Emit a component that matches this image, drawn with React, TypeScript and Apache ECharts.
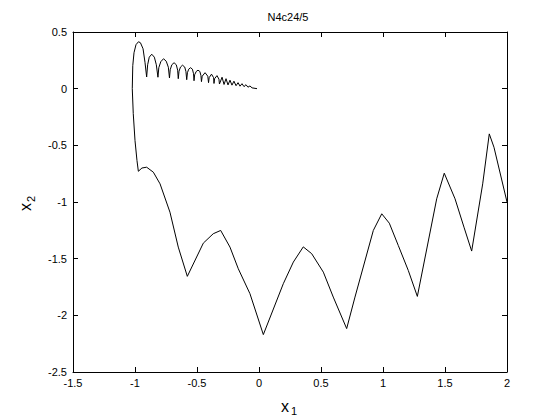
import React, { useEffect, useRef } from "react";
import * as echarts from "echarts";

const TITLE = "N4c24/5";
const X_TICKS_MIN = -1.5;
const X_TICKS_MAX = 2;
const Y_TICKS_MIN = -2.5;
const Y_TICKS_MAX = 0.5;
const TICK_STEP = 0.5;

// Upper part: from near the origin, scallops growing to the left, then down the left side
const upperX1 = [
  -0.016, -0.056, -0.073, -0.089, -0.105, -0.121, -0.137, -0.153, -0.169, -0.185,
  -0.202, -0.218, -0.234, -0.25, -0.266, -0.282, -0.298, -0.319, -0.323, -0.339,
  -0.358, -0.363, -0.366, -0.383, -0.402, -0.407, -0.413, -0.435, -0.458, -0.464,
  -0.468, -0.477, -0.492, -0.506, -0.519, -0.524, -0.528, -0.537, -0.552, -0.567,
  -0.577, -0.583, -0.589, -0.599, -0.617, -0.633, -0.645, -0.651, -0.656, -0.667,
  -0.685, -0.703, -0.716, -0.722, -0.731, -0.748, -0.77, -0.792, -0.808, -0.815,
  -0.828, -0.844, -0.865, -0.885, -0.898, -0.906, -0.919, -0.935, -0.956, -0.972,
  -0.992, -1.008, -1.018, -1.022, -1.014, -1.0, -0.984, -0.973,
];
const upperX2 = [
  0.0, 0.007, 0.024, 0.013, 0.035, 0.018, 0.044, 0.022, 0.053, 0.026,
  0.066, 0.031, 0.075, 0.033, 0.088, 0.037, 0.101, 0.041, 0.084, 0.115,
  0.088, 0.046, 0.097, 0.128, 0.097, 0.053, 0.11, 0.141, 0.11, 0.062,
  0.115, 0.152, 0.163, 0.152, 0.123, 0.07, 0.132, 0.172, 0.185, 0.172,
  0.141, 0.079, 0.15, 0.191, 0.207, 0.191, 0.154, 0.088, 0.163, 0.211,
  0.229, 0.211, 0.167, 0.094, 0.189, 0.242, 0.264, 0.238, 0.185, 0.101,
  0.211, 0.278, 0.304, 0.278, 0.211, 0.103, 0.229, 0.352, 0.405, 0.414,
  0.388, 0.317, 0.203, 0.0, -0.22, -0.458, -0.634, -0.729,
];

// Lower part: large scallops heading down and to the right
const lowerX1 = [
  -0.944, -0.906, -0.852, -0.798, -0.718, -0.651, -0.578, -0.449, -0.369, -0.309,
  -0.234, -0.167, -0.073, 0.035, 0.196, 0.277, 0.357, 0.425, 0.519, 0.599,
  0.707, 0.774, 0.922, 0.99, 1.051, 1.123, 1.204, 1.277, 1.433, 1.494,
  1.581, 1.653, 1.715, 1.804, 1.857, 1.895, 2.0,
];
const lowerX2 = [
  -0.7, -0.693, -0.737, -0.84, -1.09, -1.398, -1.656, -1.363, -1.28, -1.251,
  -1.398, -1.589, -1.809, -2.17, -1.721, -1.53, -1.396, -1.456, -1.619, -1.839,
  -2.117, -1.839, -1.251, -1.104, -1.187, -1.383, -1.604, -1.833, -0.972, -0.746,
  -0.972, -1.222, -1.433, -0.84, -0.399, -0.517, -1.0,
];

const FONT = "'Liberation Sans', Arial, sans-serif";

export default function App() {
  const ref = useRef<HTMLDivElement>(null);
  useEffect(() => {
    if (!ref.current) return;
    const chart = echarts.init(ref.current, undefined, { renderer: "svg" });
    const xs = upperX1.concat(lowerX1);
    const ys = upperX2.concat(lowerX2);
    const data = xs.map((x, i) => [x, ys[i]]);

    const axisCommon = {
      type: "value" as const,
      interval: TICK_STEP,
      axisLine: { show: true, onZero: false, lineStyle: { color: "#000", width: 1 } },
      axisTick: { show: true, inside: true, length: 5, lineStyle: { color: "#000" } },
      splitLine: { show: false },
    };

    chart.setOption({
      animation: false,
      backgroundColor: "#fff",
      grid: { left: 73, top: 32, right: 53, bottom: 48, containLabel: false },
      xAxis: [
        {
          ...axisCommon,
          position: "bottom",
          min: X_TICKS_MIN,
          max: X_TICKS_MAX,
          axisLabel: {
            show: true,
            color: "#000",
            fontSize: 11,
            fontFamily: FONT,
            margin: 5,
            showMinLabel: true,
            showMaxLabel: true,
          },
        },
        {
          ...axisCommon,
          position: "top",
          min: X_TICKS_MIN,
          max: X_TICKS_MAX,
          axisLabel: { show: false },
        },
      ],
      yAxis: [
        {
          ...axisCommon,
          position: "left",
          min: Y_TICKS_MIN,
          max: Y_TICKS_MAX,
          axisLabel: {
            show: true,
            color: "#000",
            fontSize: 11,
            fontFamily: FONT,
            margin: 6,
            showMinLabel: true,
            showMaxLabel: true,
          },
        },
        {
          ...axisCommon,
          position: "right",
          min: Y_TICKS_MIN,
          max: Y_TICKS_MAX,
          axisLabel: { show: false },
        },
      ],
      series: [
        {
          type: "line",
          data,
          showSymbol: false,
          symbol: "none",
          lineStyle: { color: "#000", width: 1 },
          clip: true,
        },
      ],
      graphic: [
        {
          type: "text",
          x: 288,
          y: 17,
          style: {
            text: TITLE,
            fill: "#000",
            font: `11px ${FONT}`,
            align: "center",
            verticalAlign: "middle",
          },
        },
        {
          type: "text",
          x: 285,
          y: 406,
          style: { text: "x", fill: "#000", font: `16px ${FONT}`, align: "center", verticalAlign: "middle" },
        },
        {
          type: "text",
          x: 294,
          y: 411,
          style: { text: "1", fill: "#000", font: `11px ${FONT}`, align: "center", verticalAlign: "middle" },
        },
        {
          type: "text",
          x: 25,
          y: 207,
          rotation: Math.PI / 2,
          style: { text: "x", fill: "#000", font: `16px ${FONT}`, align: "center", verticalAlign: "middle" },
        },
        {
          type: "text",
          x: 31,
          y: 199,
          rotation: Math.PI / 2,
          style: { text: "2", fill: "#000", font: `11px ${FONT}`, align: "center", verticalAlign: "middle" },
        },
      ],
    });
    return () => chart.dispose();
  }, []);
  return (
    <div
      ref={ref}
      style={{ position: "fixed", left: 0, top: 0, width: 560, height: 420, background: "#fff" }}
    />
  );
}
